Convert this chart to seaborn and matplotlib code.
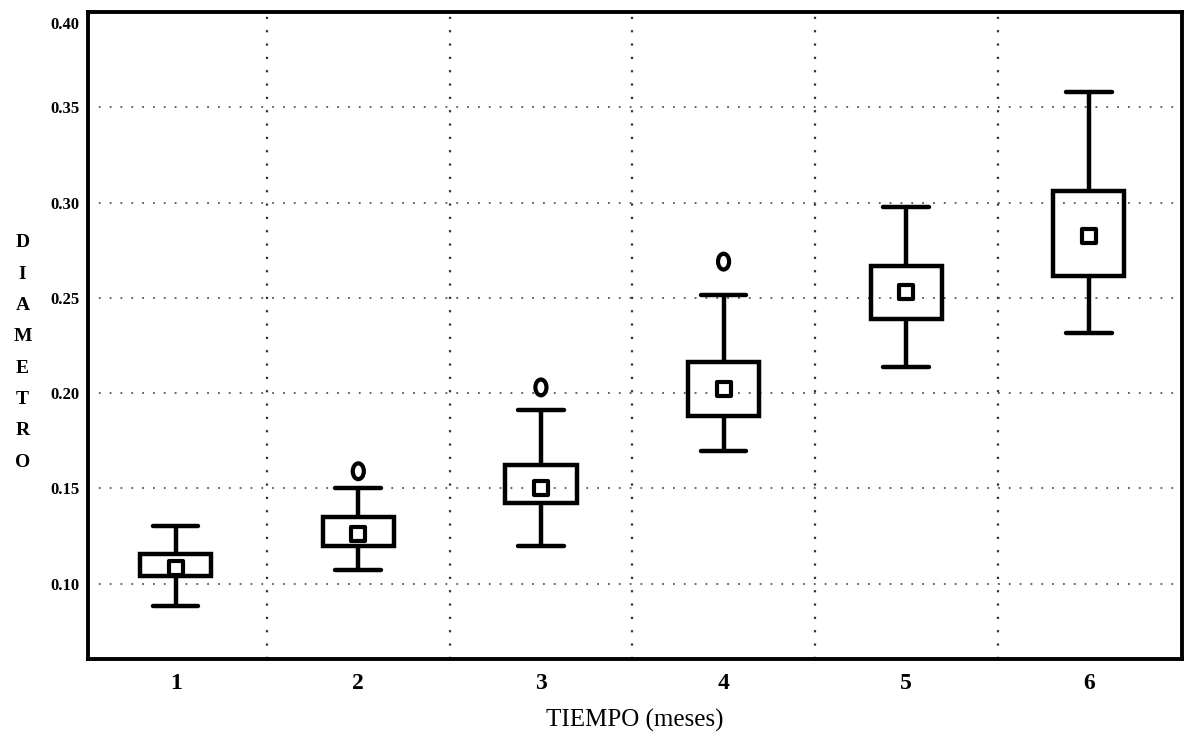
import numpy as np
import pandas as pd
import matplotlib
matplotlib.use("Agg")
import matplotlib.pyplot as plt
from matplotlib.path import Path
from matplotlib.transforms import ScaledTranslation
import seaborn as sns

# valores (diametro por mes)
meses = ["1", "2", "3", "4", "5", "6"]
bigote_inf = [0.0885, 0.1073, 0.120, 0.1696, 0.2136, 0.2314]
cuartil_1 = [0.1042, 0.120, 0.1424, 0.188, 0.2387, 0.2612]
mediana = [0.108, 0.126, 0.150, 0.202, 0.253, 0.2822]
cuartil_3 = [0.1157, 0.135, 0.1623, 0.2162, 0.2665, 0.3058]
bigote_sup = [0.1303, 0.150, 0.191, 0.2513, 0.2974, 0.358]
atipico_mes = ["2", "3", "4"]
atipico_val = [0.159, 0.203, 0.269]

y_ticks = [0.10, 0.15, 0.20, 0.25, 0.30, 0.35, 0.40]

# cinco puntos por grupo -> caja exacta con whis=(0, 100)
rows = []
for i, m in enumerate(meses):
    for v in (bigote_inf[i], cuartil_1[i], mediana[i], cuartil_3[i], bigote_sup[i]):
        rows.append({"mes": m, "diametro": v})
df = pd.DataFrame(rows)

sns.set_style("white")
plt.rcParams["font.family"] = ["Liberation Serif", "DejaVu Serif"]
plt.rcParams["text.color"] = "black"
plt.rcParams["xtick.color"] = "black"
plt.rcParams["ytick.color"] = "black"
plt.rcParams["axes.labelcolor"] = "black"

fig = plt.figure(figsize=(11.86, 7.39), dpi=100)
ax = fig.add_axes([0.0742, 0.1083, 0.9224, 0.8755])

sns.boxplot(data=df, x="mes", y="diametro", order=meses, whis=(0, 100),
            width=0.39, color="white", linewidth=3.2, showcaps=True,
            boxprops=dict(facecolor="none", edgecolor="black"),
            whiskerprops=dict(color="black"),
            capprops=dict(color="black"),
            medianprops=dict(linewidth=0),
            capwidths=0.25, ax=ax)

pos = {m: i for i, m in enumerate(meses)}
sns.scatterplot(x=[pos[m] for m in meses], y=mediana, marker="s", s=95,
                facecolor="white", edgecolor="black", linewidth=3.0, zorder=5, ax=ax)

circ = Path.unit_circle()
ellipse = Path(circ.vertices * np.array([0.7, 1.0]), circ.codes)
sns.scatterplot(x=[pos[m] for m in atipico_mes], y=atipico_val, marker=ellipse, s=130,
                facecolor="none", edgecolor="black", linewidth=3.0, zorder=5, ax=ax)

ax.set_xlim(-0.48, 5.51)
ax.set_ylim(0.0605, 0.40)
ax.set_yticks(y_ticks)
ax.set_yticklabels([f"{t:.2f}" for t in y_ticks], fontsize=12, fontweight="bold")
ax.set_xticks(range(len(meses)))
ax.set_xticklabels(meses, fontsize=17, fontweight="bold")
ax.set_xticks(np.arange(0.5, len(meses) - 0.5, 1.0), minor=True)
ax.tick_params(axis="both", which="both", length=0, pad=6)
ax.tick_params(axis="x", pad=10)

# la etiqueta 0.40 queda un poco por debajo del borde superior
top_lbl = ax.get_yticklabels()[-1]
top_lbl.set_transform(top_lbl.get_transform() + ScaledTranslation(0, -0.11, fig.dpi_scale_trans))

ax.grid(False)
ax.grid(True, axis="y", which="major", linestyle=(0, (1, 5)), color="#555555", linewidth=1.3)
ax.grid(True, axis="x", which="minor", linestyle=(0, (1, 5)), color="#333333", linewidth=1.6)

for s in ax.spines.values():
    s.set_visible(True)
    s.set_color("black")
    s.set_linewidth(2.8)

ax.set_xlabel("TIEMPO (meses)", fontsize=18, labelpad=11)
ax.set_ylabel("")
fig.text(0.019, 0.523, "\n".join("DIAMETRO"), fontsize=14, fontweight="bold",
         ha="center", va="center", linespacing=2.1)

fig.savefig("out.png", dpi=100)
